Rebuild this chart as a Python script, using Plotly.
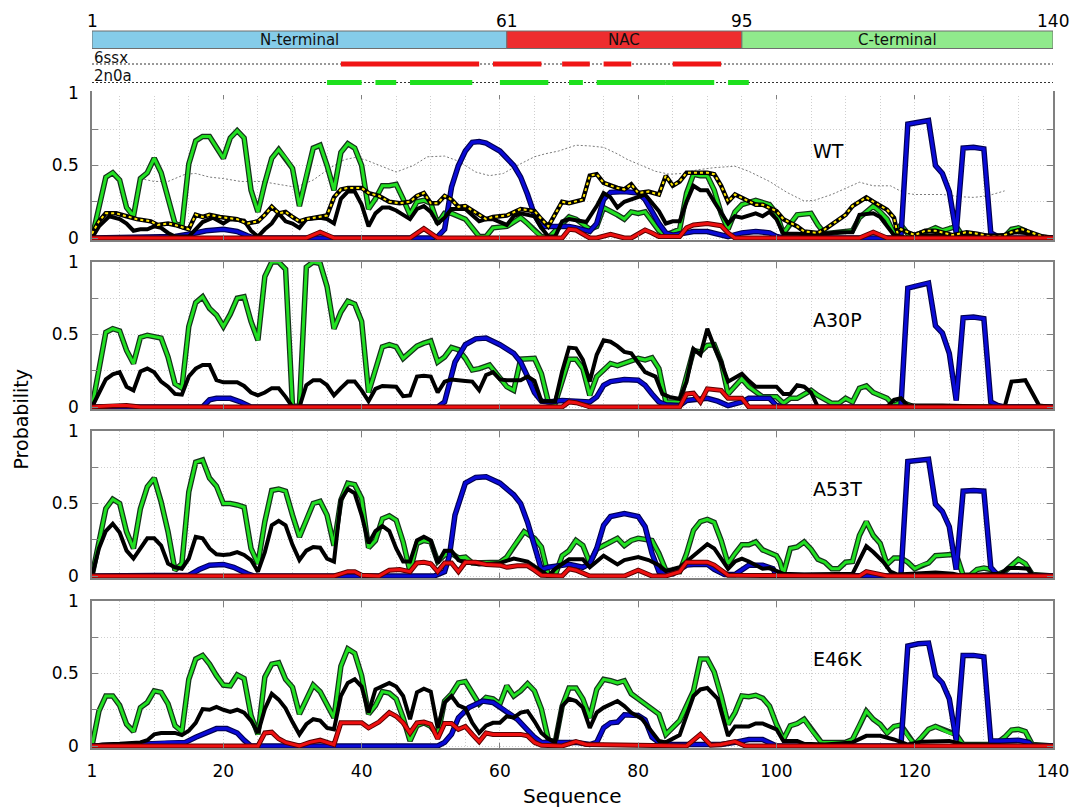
import plotly.graph_objects as go

# ---------------- data ----------------
PANELS = ["WT", "A30P", "A53T", "E46K"]
X_TICKS = [1, 20, 40, 60, 80, 100, 120, 140]
Y_TICKS = [0, 0.25, 0.5, 0.75, 1]
Y_TICKTEXT = ["0", "", "0.5", "", "1"]

REGIONS = ["N-terminal", "NAC", "C-terminal"]
REGION_START = [1, 61, 95]
REGION_END = [61, 95, 140]
REGION_COLORS = ["#85cce9", "#ee2d2f", "#90ea8c"]
BOUNDARY_TICKS = [1, 61, 95, 140]
SSX_SEGMENTS = [(37, 57), (59, 66), (69, 73), (75, 79), (85, 92)]
N0A_SEGMENTS = [(35, 40), (42, 45), (47, 56), (60, 67), (70, 72), (74, 84), (84, 91), (93, 96)]

WT_GREEN = [(1,0),(3,.42),(4,.45),(5,.40),(6,.21),(7,.15),(8,.41),(9,.45),(10,.55),(11,.45),(13,.10),(14,.08),(15,.51),(16,.67),(17,.70),(18,.70),(20,.55),(21,.69),(22,.74),(23,.69),(24,.33),(25,.18),(26,.38),(27,.55),(28,.61),(29,.55),(30,.48),(31,.22),(32,.43),(33,.62),(34,.64),(35,.50),(36,.33),(37,.59),(38,.65),(39,.62),(40,.50),(41,.20),(42,.27),(43,.36),(44,.36),(45,.37),(46,.27),(47,.16),(48,.25),(49,.26),(50,.24),(51,.10),(52,.17),(53,.17),(55,.13),(56,.07),(57,.01),(58,.01),(59,.07),(61,.08),(62,.11),(63,.14),(64,.10),(65,.05),(66,.01),(67,0),(69,.10),(70,.145),(71,.13),(73,.06),(74,.08),(75,.21),(77,.16),(78,.13),(79,.18),(80,.17),(81,.18),(83,.05),(84,.02),(86,.06),(87,.31),(88,.44),(89,.43),(90,.43),(91,.33),(92,.17),(93,.06),(94,.18),(95,.23),(97,.26),(99,.23),(100,.17),(101,.03),(102,.10),(103,.16),(105,.17),(106,.09),(107,.03),(111,.05),(112,.14),(114,.22),(115,.18),(116,.13),(117,.03),(118,.09),(119,.03),(120,.02),(122,.05),(123,.07),(124,.05),(126,.08),(127,.01),(133,.01),(134,.06),(135,.07),(136,.05),(137,.01),(140,0)]
WT_BLACK = [(1,0),(2,.08),(3.5,.15),(5,.13),(6,.10),(7,.05),(8,.06),(9,.06),(10,.08),(11,.07),(12,.035),(13,.01),(15,.01),(16,.06),(17,.11),(18.5,.14),(20,.10),(21,.13),(23,.12),(24,.05),(25,.01),(26,.06),(27,.10),(28,.17),(29,.115),(30,.10),(31,.07),(32,.13),(34,.14),(35,.13),(36,.10),(37,.27),(38,.32),(39,.32),(40,.23),(41,.08),(42,.17),(43,.21),(44,.21),(45,.19),(46,.16),(47,.13),(48,.20),(49,.22),(50,.18),(51,.10),(52,.14),(53,.20),(55,.20),(57,.115),(58,.13),(59,.13),(61,.09),(62,.15),(63,.17),(65,.15),(66,.07),(67,.01),(68,.01),(69,.115),(70,.13),(72.5,.11),(74,.22),(75,.31),(76,.28),(77,.21),(78,.25),(80,.28),(81,.30),(83,.185),(84,.10),(85,.115),(86,.115),(87,.25),(88,.36),(89,.33),(90,.33),(91,.25),(93,.10),(94,.15),(95,.14),(97,.17),(98,.15),(99,.18),(100,.13),(101,.03),(103,.03),(106,.02),(107,.03),(109,.04),(111,.04),(112,.16),(114,.17),(115,.145),(116,.08),(117,.02),(119,0),(121,.015),(123,.02),(127,.01),(133,.02),(134.5,.04),(136,.035),(137,.01),(140,0)]
WT_TOTAL = [(1,.03),(2,.115),(3,.17),(4.5,.17),(6,.15),(7.5,.13),(9.5,.115),(10.5,.09),(12,.10),(13,.09),(15,.06),(16,.16),(17,.145),(18,.16),(19.5,.145),(20.5,.14),(22,.13),(23.5,.10),(25,.115),(26,.16),(27,.215),(28,.17),(29,.18),(30,.145),(31,.115),(32,.13),(34,.145),(35,.155),(36,.28),(37,.335),(38,.345),(40,.345),(41,.31),(42.5,.29),(44,.25),(45.5,.24),(47,.25),(48,.29),(49,.31),(50,.24),(51,.24),(52,.29),(53,.265),(54,.215),(55,.22),(56,.19),(57,.16),(58,.13),(59,.145),(61,.155),(63,.20),(65,.185),(66,.13),(67,.08),(69,.25),(70,.24),(72,.265),(73,.43),(74,.44),(75,.38),(77,.345),(78,.335),(79,.37),(80,.31),(81.5,.32),(83,.30),(84,.43),(85,.36),(86,.39),(87,.45),(88,.45),(90,.45),(91,.44),(92,.36),(93,.25),(94,.30),(95.5,.265),(97,.23),(98,.23),(100,.185),(101,.13),(103,.08),(104,.045),(106,.035),(107,.06),(109,.13),(110,.16),(111,.22),(112,.25),(113,.28),(114,.25),(116,.195),(117,.14),(117.5,.035),(118,.06),(120,.02),(121.5,.05),(123,.05),(125.5,.02),(127.5,.04),(129,.03),(131,.01),(132.5,.01),(134,.04),(135.5,.06),(137,.035),(138.5,.01),(140,0)]
WT_GRAY = [(8,.41),(10,.39),(12,.39),(14.5,.44),(16,.445),(18,.42),(20,.41),(22.5,.39),(25.5,.39),(27.5,.375),(30.5,.35),(33,.40),(35.5,.485),(37.5,.54),(39,.555),(40.5,.54),(42.5,.50),(45,.455),(47.5,.50),(49.5,.56),(52,.565),(54,.53),(56.5,.455),(58.5,.43),(60.5,.445),(62.5,.50),(65,.56),(66.5,.58),(68.5,.60),(71,.64),(73,.635),(75,.625),(77,.58),(78.5,.54),(80.5,.50),(82.5,.46),(84.5,.44),(86.5,.445),(88.5,.47),(91,.485),(94,.495),(96,.46),(99,.39),(101.5,.315),(104,.255),(105.5,.26),(108,.30),(110,.345),(112,.385),(114,.36),(116.5,.36),(118.5,.31),(120,.30),(124,.30),(126.5,.285),(128.5,.28),(130.5,.29),(133,.325)]
WT_BLUE = [(1,0),(13,.01),(16,.035),(17.5,.05),(20,.06),(22,.045),(23.5,.015),(24.5,0),(50,0),(51,.01),(52,.06),(53,.35),(54,.50),(55,.60),(56,.66),(57,.665),(58,.655),(60,.60),(62,.50),(63,.42),(64,.30),(65,.16),(66,.08),(68,.08),(70,.08),(71,.07),(73,.045),(74,.10),(75,.265),(76,.315),(78,.32),(80,.31),(81,.265),(83,.10),(84,.035),(85,.02),(87,.035),(88,.045),(90,.045),(92,.02),(93,.01),(95,.035),(97,.045),(99,.035),(100,.01),(101,0),(118,0),(119,.785),(120.5,.80),(122,.81),(123,.50),(124,.445),(125,.32),(126,.035),(127,.62),(128.5,.625),(130,.615),(131,.035),(132,.01),(133,0),(140,0)]
WT_RED = [(1,0),(32,0),(34,.04),(36,0),(47,0),(49,.065),(51,0),(69,0),(70,.06),(71,.055),(73,0),(74,0),(76,.025),(78,0),(79,0),(81,.055),(82,.035),(83,.01),(86,.01),(87,.07),(88,.09),(90,.10),(92,.085),(93,.035),(94,0),(112,0),(114,.04),(116,0),(140,0)]

A30P_GREEN = [(1,0),(3,.515),(4,.54),(5,.525),(6,.39),(7,.30),(8,.48),(9,.495),(11,.475),(12,.345),(13,.16),(14,.13),(15,.555),(16,.72),(17,.76),(18,.68),(19,.635),(20,.555),(21,.64),(22,.75),(23,.76),(24,.59),(25,.46),(26,.90),(27,1.0),(28,1.0),(29,.95),(30,.005),(31,.005),(32,.965),(33,1.0),(34,.99),(35,.83),(36,.54),(37,.655),(38,.73),(39,.71),(40,.59),(41,.10),(42,.255),(43,.415),(44,.43),(45,.415),(46,.335),(47,.38),(48,.42),(49,.44),(50,.455),(51,.31),(52,.345),(53,.41),(54,.395),(55,.335),(56,.255),(57,.265),(58.5,.29),(60,.20),(61,.14),(62,.115),(63,.33),(65,.335),(66,.23),(67,.035),(68,.025),(70,.33),(71,.33),(72,.265),(73,.08),(74,.21),(76,.30),(77,.285),(79,.315),(80,.335),(81,.325),(82,.34),(83,.265),(84,.035),(86,.035),(88,.39),(89,.38),(90,.425),(91,.43),(92,.31),(93,.09),(95,.195),(96,.14),(98,.07),(100,.07),(101,.025),(102,.06),(103,.06),(105,.115),(106,.08),(108,.025),(109,.025),(110,.06),(111,.035),(112,.13),(113,.145),(114,.10),(116,.06),(117,.01),(118,.035),(120,0),(140,0)]
A30P_BLACK = [(1,0),(2,.10),(3,.19),(4,.225),(5,.24),(6,.14),(7,.115),(8,.245),(9,.265),(10,.24),(11,.175),(12,.14),(13,.09),(14,.085),(15,.21),(16,.265),(17,.29),(18,.29),(19,.185),(20,.17),(22,.17),(23,.145),(24,.10),(25,.08),(26,.10),(27,.13),(28,.13),(29,.07),(30,0),(31,0),(32,.15),(33,.185),(34,.185),(35,.15),(36,.08),(37,.13),(38,.175),(39,.175),(40,.115),(41,.04),(42,.125),(43,.145),(45,.14),(46,.075),(47,.08),(48,.21),(49,.215),(50,.21),(51,.10),(52,.175),(53,.19),(55,.18),(56,.175),(57,.115),(58,.22),(59,.24),(60,.19),(61,.185),(63,.185),(64,.21),(65,.18),(66,.04),(68,.04),(69,.245),(70,.41),(71,.405),(72,.325),(73,.175),(74,.36),(75,.46),(76,.45),(77,.42),(78,.38),(79,.37),(80,.31),(81,.24),(82.5,.21),(83.5,.09),(84.5,.07),(86,.055),(87,.175),(88,.40),(89,.36),(90,.54),(91,.415),(92,.31),(93,.175),(95,.23),(96,.18),(97,.14),(100,.14),(101,.09),(102,.09),(103,.15),(104,.14),(105,.10),(106,0),(116,0),(117,.05),(118,.06),(119,.01),(124,.01),(133,0),(134,.175),(136,.185),(138,.01),(140,0)]
A30P_BLUE = [(1,0),(17,0),(18,.05),(19,.06),(21,.06),(22.5,.035),(24,0),(51,0),(52,.035),(52.5,.125),(53.5,.31),(55,.43),(56.5,.47),(58,.475),(60,.43),(62,.37),(63,.31),(64,.21),(65,.10),(66,.04),(67,.035),(69,.045),(71,.04),(73,.035),(74,.07),(75,.15),(76,.175),(78,.19),(80,.185),(81,.15),(82,.09),(83,.035),(84,.015),(86,.01),(87,.045),(89,.06),(90,.06),(91.5,.04),(93,.01),(95,.035),(96,.06),(99,.06),(100,.01),(101,0),(118,0),(119,.82),(120.5,.84),(122,.855),(123,.56),(124,.51),(125,.37),(126,.045),(127,.615),(128.5,.62),(130,.61),(131,.035),(132,.01),(133,0),(140,0)]
A30P_RED = [(1,0),(4,.01),(6,.01),(8,0),(69,0),(70,.035),(71,.03),(72.5,.01),(73,0),(86,0),(87,.09),(88,.095),(89,.035),(90,.125),(92,.115),(93,.06),(95,.06),(96,0),(140,0)]

A53T_GREEN = [(1,0),(3,.465),(4,.53),(5,.50),(6,.305),(7,.19),(8,.465),(9,.615),(10,.675),(11,.51),(12,.305),(13,.04),(14,.085),(15,.58),(16,.785),(17,.80),(18,.675),(19,.62),(20,.50),(21,.50),(22,.49),(23,.475),(24,.19),(25,.085),(26,.375),(27,.59),(28,.60),(29,.585),(30,.42),(31,.27),(32,.385),(33,.50),(34,.515),(35,.42),(36,.21),(37,.525),(38,.64),(39,.63),(40,.535),(41,.195),(42,.245),(43,.395),(44,.415),(45,.385),(46,.235),(47,.03),(48,.225),(49,.245),(50,.235),(51,.10),(52,.145),(53,.155),(54,.125),(55,.13),(56,.09),(58,.09),(60,.095),(61,.13),(62,.205),(63.5,.305),(65,.26),(66,.20),(67,.005),(68,.005),(69,.14),(70,.175),(71,.245),(72,.21),(73,.09),(74,.185),(75,.21),(77,.26),(78,.21),(79,.245),(80,.26),(82,.245),(83,.155),(84,.04),(86,.03),(87,.155),(88,.315),(89,.375),(90,.39),(91,.37),(92,.245),(93,.085),(94,.155),(95,.215),(96,.215),(97,.235),(98,.18),(100,.14),(100.5,.10),(101,.015),(102,.19),(103,.20),(104,.235),(105,.185),(106,.115),(107,.095),(108,.05),(109,.05),(110,.095),(111,.10),(112,.28),(113,.375),(114,.28),(115,.225),(116,.08),(117,.125),(118,.125),(119,.095),(120,.05),(121,.075),(122,.09),(123,.14),(124.5,.145),(126,.15),(127,.005),(128,.005),(129,.045),(130,.055),(131,.045),(132,.01),(133,.03),(134,.07),(135,.115),(136,.085),(137,.01),(140,0)]
A53T_BLACK = [(1,0),(2,.19),(3,.31),(4,.36),(5,.30),(6,.175),(7,.12),(8,.19),(9,.26),(10,.26),(11,.21),(12,.085),(13,.06),(14,.05),(15,.12),(16,.27),(17,.26),(18,.19),(19,.15),(20,.145),(21,.15),(22,.165),(23,.145),(24,.11),(25,.03),(26,.165),(27,.35),(28,.38),(29,.35),(30,.215),(31,.11),(32,.175),(33,.20),(34,.195),(35,.12),(36,.10),(37,.525),(38,.60),(39,.57),(40,.42),(41,.225),(42,.31),(43,.345),(44,.31),(45,.19),(46,.10),(47,.10),(48,.245),(49,.27),(50,.245),(51,.09),(52,.175),(53,.175),(54,.11),(55,.09),(56,.09),(57,.08),(60,.09),(62,.12),(64,.10),(66,.03),(67,0),(68,.05),(70,.115),(72,.115),(73,.06),(75,.14),(77,.08),(78,.11),(80,.13),(81.5,.11),(83,.075),(84,.035),(86,.06),(88,.14),(90,.22),(91,.19),(93,.05),(94,.10),(95,.12),(96,.10),(98,.05),(99,.055),(101,.015),(104,.01),(111,.015),(113,.205),(114,.165),(115.5,.095),(116.5,.03),(117.5,.01),(123,.025),(125.5,.015),(126.5,.005),(132.5,.015),(133.5,.055),(135,.055),(136.5,.05),(137,.005),(140,0)]
A53T_BLUE = [(1,0),(15,.005),(16.5,.045),(18,.075),(20,.08),(21.5,.06),(23.5,.015),(24.5,0),(50.5,0),(52,.03),(52.7,.14),(53.5,.42),(55,.64),(56.5,.68),(58,.685),(60,.64),(62,.56),(63,.50),(64,.37),(65,.21),(66,.045),(67,.06),(69,.07),(70,.08),(72,.06),(73,.085),(74,.19),(75,.35),(76,.41),(78,.43),(80,.41),(81,.34),(82,.155),(83,.03),(85,.015),(87,.075),(88,.08),(90,.08),(91,.045),(92.5,.01),(94,.01),(95,.04),(96,.075),(98,.075),(99.5,.05),(100,.005),(118,0),(119,.79),(120.5,.80),(122,.805),(123,.495),(124,.445),(125,.34),(126,.045),(127,.585),(128.5,.59),(130,.585),(131,.06),(132,.005),(140,0)]
A53T_RED = [(1,0),(36,0),(37,.015),(38,.03),(39,.03),(40,.005),(42.5,0),(44,.04),(45.5,.045),(47,.03),(48,.09),(49,.095),(50,.085),(51,.03),(52,.09),(53,.09),(54,.03),(55,.095),(56.5,.095),(58,.08),(60,.075),(61,.06),(62.5,.07),(64,.07),(65,.04),(66,.005),(69,0),(70,.05),(71,.04),(73,0),(78,0),(80,.04),(82,0),(84,0),(86,.03),(87,.095),(90,.095),(91,.075),(93,.005),(112,0),(113,.03),(115,.01),(116,0),(140,0)]

E46K_GREEN = [(1,0),(2,.24),(3,.345),(4,.345),(5,.28),(6,.15),(7,.10),(8,.265),(9,.30),(10,.38),(11,.37),(12,.29),(13,.14),(14,.10),(15,.46),(16,.60),(17,.625),(18,.565),(19,.485),(20,.42),(21,.415),(22,.49),(23,.465),(24,.21),(25,.08),(26,.475),(27,.565),(28,.575),(29,.46),(30,.405),(31,.22),(32,.325),(33,.42),(34,.375),(35,.28),(36,.195),(37,.55),(38,.67),(39,.64),(40,.485),(41,.22),(42,.28),(43,.375),(44,.365),(45,.325),(46,.195),(47,.035),(48,.14),(49,.16),(50,.135),(51,.075),(52,.31),(53,.36),(54,.435),(55,.445),(56,.37),(57,.29),(58,.335),(59,.325),(60,.29),(61,.415),(62,.345),(63,.38),(64,.43),(65,.38),(66,.255),(67,.045),(68,.025),(69,.275),(70,.40),(71,.40),(72,.325),(73,.195),(74,.39),(75,.46),(76,.45),(77,.435),(78,.45),(79,.36),(80,.325),(81.5,.275),(83,.22),(84,.08),(86,.175),(88,.38),(89,.60),(90,.60),(91,.51),(92,.345),(93,.15),(94,.23),(95,.345),(96,.34),(97,.35),(98,.33),(99,.275),(100,.15),(101,.045),(102,.14),(103,.155),(104,.185),(105,.115),(106.5,.025),(110,.025),(111,.045),(112,.14),(113,.24),(114,.185),(115,.15),(116,.09),(117,.135),(118,.145),(119,.07),(120,.01),(121,.06),(122,.115),(123,.135),(124,.115),(125,.09),(126,.08),(127,.01),(131,.01),(132,.025),(133,.06),(134,.11),(135,.115),(136,.10),(137,.01),(140,0)]
E46K_BLACK = [(1,0),(2.5,.01),(5,.015),(7,.02),(8,.025),(9,.04),(10,.08),(11,.09),(13,.09),(14,.075),(15,.105),(16,.16),(17,.255),(18,.25),(19,.27),(20,.25),(21,.235),(22,.25),(23,.23),(24,.175),(25,.09),(26,.255),(27,.36),(28,.32),(29,.26),(30,.165),(31,.08),(32,.15),(33,.185),(34,.175),(35,.125),(36,.115),(37,.345),(38,.435),(39,.46),(40,.41),(41,.23),(42,.39),(43,.415),(44,.435),(45,.41),(46,.345),(47,.185),(48,.37),(49,.395),(50,.375),(51,.125),(52,.30),(53,.345),(54,.28),(55,.26),(56,.16),(57,.09),(58,.14),(59,.16),(60,.16),(61,.205),(62,.195),(63,.23),(64,.24),(65,.17),(66,.09),(67,.05),(68,.025),(69,.275),(70,.325),(71,.31),(72,.265),(73,.125),(74,.23),(75,.265),(76,.29),(77,.31),(78,.275),(79,.23),(80.5,.19),(81.5,.125),(83,.035),(84,.025),(86,.075),(87,.21),(88,.345),(89,.39),(90,.40),(91.5,.325),(93,.07),(94,.135),(96,.135),(97,.155),(98,.155),(100,.115),(101,.035),(103,.035),(104,.015),(107,.01),(111,.025),(113,.07),(115,.07),(117,.045),(118,.025),(119,.01),(121,.03),(125,.035),(127,.01),(140,0)]
E46K_BLUE = [(1,0),(7.5,.01),(12,.025),(14.5,.025),(16,.06),(17.5,.09),(19,.12),(20.5,.12),(22,.09),(23,.04),(24,0),(51,0),(52,.025),(53,.08),(54,.195),(55.5,.265),(57.5,.31),(59,.30),(60.5,.255),(62.5,.185),(64,.11),(65,.06),(66,.025),(67,.025),(69,.03),(71,.025),(73,.01),(74,.025),(75,.125),(76,.16),(77,.165),(78,.215),(80,.21),(81,.18),(82,.06),(83,.025),(85,.01),(92,.01),(94,.025),(96,.045),(98,.045),(99.5,.01),(100,0),(118,0),(119,.69),(120.5,.705),(122,.71),(123,.485),(124,.435),(125,.325),(126,.04),(127,.625),(128.5,.625),(130,.615),(131,.035),(132.5,.035),(135,.04),(136.5,.025),(137,0),(140,0)]
E46K_RED = [(1,0),(25,0),(26,.09),(27,.095),(28,.05),(29,.025),(31,0),(32.5,.025),(34,.04),(36,.01),(37,.16),(40,.16),(41,.125),(42.5,.165),(44,.23),(45,.205),(46,.16),(47,.09),(48,.16),(49,.165),(50,.15),(51,.05),(52,.155),(53,.155),(54,.115),(55,.135),(56,.08),(57,.03),(58,.09),(59,.08),(63,.08),(64,.07),(65,.025),(66,.005),(69,0),(71,.03),(72.5,.01),(87,0),(89,.08),(90.5,.005),(92,.01),(94,.03),(95.5,0),(140,0)]

SERIES = {
    "WT": dict(green=WT_GREEN, blue=WT_BLUE, black=WT_BLACK, total=WT_TOTAL, red=WT_RED, gray=WT_GRAY),
    "A30P": dict(green=A30P_GREEN, blue=A30P_BLUE, black=A30P_BLACK, red=A30P_RED),
    "A53T": dict(green=A53T_GREEN, blue=A53T_BLUE, black=A53T_BLACK, red=A53T_RED),
    "E46K": dict(green=E46K_GREEN, blue=E46K_BLUE, black=E46K_BLACK, red=E46K_RED),
}

# ---------------- layout geometry (pixels) ----------------
W, H = 1070, 810
X0, X1 = 92, 1053
PANEL_TOP = [93, 262, 431, 601]
PANEL_H = 145
YPAD = 0.017
HEAD_H = 95
FONT = "DejaVu Sans"
GRID = "#cfcfcf"

fig = go.Figure()


def xy(pts):
    xs, ys = zip(*pts)
    return list(xs), list(ys)


def line(pts, xa, ya, color, width, dash=None):
    xs, ys = xy(pts)
    fig.add_trace(go.Scatter(x=xs, y=ys, mode="lines", xaxis=xa, yaxis=ya,
                             line=dict(color=color, width=width, dash=dash),
                             hoverinfo="skip", showlegend=False))


for i, name in enumerate(PANELS):
    xa = "x" if i == 0 else f"x{i+1}"
    ya = "y" if i == 0 else f"y{i+1}"
    s = SERIES[name]
    if "gray" in s:
        line(s["gray"], xa, ya, "#7a7a7a", 1, "2px,2px")
    line(s["green"], xa, ya, "#15331a", 5.5)
    line(s["green"], xa, ya, "#22e022", 3)
    line(s["blue"], xa, ya, "#000050", 5.5)
    line(s["blue"], xa, ya, "#0a0ad6", 3.2)
    line(s["black"], xa, ya, "#000000", 4)
    if "total" in s:
        line(s["total"], xa, ya, "#000000", 4.5)
        line(s["total"], xa, ya, "#ffe500", 2, "3px,3px")
    line(s["red"], xa, ya, "#5a0000", 5)
    line(s["red"], xa, ya, "#ee1010", 3)

    top = PANEL_TOP[i]
    bottom = top + PANEL_H
    lo = bottom + YPAD * PANEL_H
    xkey = "xaxis" if i == 0 else f"xaxis{i+1}"
    ykey = "yaxis" if i == 0 else f"yaxis{i+1}"
    fig.update_layout(**{
        xkey: dict(domain=[X0 / W, X1 / W], range=[1, 140], anchor=ya,
                   tickmode="array", tickvals=X_TICKS, ticktext=[str(t) for t in X_TICKS],
                   showticklabels=(i == 3), ticks="inside", ticklen=6, tickcolor="#808080",
                   showline=True, linecolor="#808080", linewidth=1.5, mirror="ticks",
                   showgrid=True, gridcolor=GRID, griddash="1px,2px", gridwidth=1,
                   minor=dict(dtick=5, tick0=0, showgrid=True, gridcolor=GRID,
                              griddash="1px,2px", gridwidth=1, ticks=""),
                   zeroline=False, ticklabelstandoff=6, automargin=False,
                   tickfont=dict(family=FONT, size=17, color="#000")),
        ykey: dict(domain=[1 - lo / H, 1 - top / H], range=[-YPAD, 1], anchor=xa,
                   tickmode="array", tickvals=Y_TICKS, ticktext=Y_TICKTEXT,
                   ticks="inside", ticklen=6, tickcolor="#808080",
                   showline=True, linecolor="#808080", linewidth=1.5, mirror="ticks",
                   showgrid=True, gridcolor=GRID, griddash="1px,2px", gridwidth=1,
                   zeroline=False, ticklabelstandoff=8, automargin=False,
                   tickfont=dict(family=FONT, size=17, color="#000")),
    })
    fig.add_annotation(xref=xa, yref=ya, x=105, y=0.6, text=name, showarrow=False,
                       xanchor="left", yanchor="middle",
                       font=dict(family=FONT, size=19, color="#000"))

# ---------------- header ----------------
fig.update_layout(
    xaxis5=dict(domain=[X0 / W, X1 / W], range=[1, 140], anchor="y5", visible=False,
                automargin=False),
    yaxis5=dict(domain=[1 - HEAD_H / H, 1], range=[HEAD_H, 0], anchor="x5", visible=False,
                automargin=False),
)
for name, a, b, c in zip(REGIONS, REGION_START, REGION_END, REGION_COLORS):
    fig.add_shape(type="rect", xref="x5", yref="y5", x0=a, x1=b, y0=31, y1=48.5,
                  fillcolor=c, line=dict(color="#6f6f6f", width=1), layer="above")
    fig.add_annotation(xref="x5", yref="y5", x=(a + b) / 2, y=40, text=name, showarrow=False,
                       xanchor="center", yanchor="middle",
                       font=dict(family=FONT, size=15, color="#111"))
for t in BOUNDARY_TICKS:
    fig.add_annotation(xref="x5", yref="y5", x=t, y=21, text=str(t), showarrow=False,
                       xanchor="center", yanchor="middle",
                       font=dict(family=FONT, size=17, color="#000"))


def track(label, segments, ypos, color):
    fig.add_trace(go.Scatter(x=[1, 140], y=[ypos, ypos], mode="lines", xaxis="x5", yaxis="y5",
                             line=dict(color="#333", width=1, dash="2px,2px"),
                             hoverinfo="skip", showlegend=False))
    xs, ys = [], []
    for a, b in segments:
        xs += [a, b, None]
        ys += [ypos, ypos, None]
    fig.add_trace(go.Scatter(x=xs, y=ys, mode="lines", xaxis="x5", yaxis="y5",
                             line=dict(color=color, width=5),
                             hoverinfo="skip", showlegend=False))
    fig.add_annotation(xref="x5", yref="y5", x=1, y=ypos - 6.5, text=label, showarrow=False,
                       xanchor="left", yanchor="middle",
                       font=dict(family=FONT, size=15, color="#111"))


track("6ssx", SSX_SEGMENTS, 64, "#f01515")
track("2n0a", N0A_SEGMENTS, 82.5, "#1ee01e")

# ---------------- axis titles ----------------
fig.add_annotation(xref="paper", yref="paper", x=20 / W, y=1 - 419.5 / H, text="Probability",
                   textangle=-90, showarrow=False, xanchor="center", yanchor="middle",
                   font=dict(family=FONT, size=19, color="#000"))
fig.add_annotation(xref="paper", yref="paper", x=(X0 + X1) / 2 / W, y=1 - 796 / H,
                   text="Sequence", showarrow=False, xanchor="center", yanchor="middle",
                   font=dict(family=FONT, size=20, color="#000"))

fig.update_layout(width=W, height=H,
                  margin=dict(l=0, r=0, t=0, b=0, pad=0, autoexpand=False),
                  paper_bgcolor="white", plot_bgcolor="white", showlegend=False)

fig.write_html("out.html")
